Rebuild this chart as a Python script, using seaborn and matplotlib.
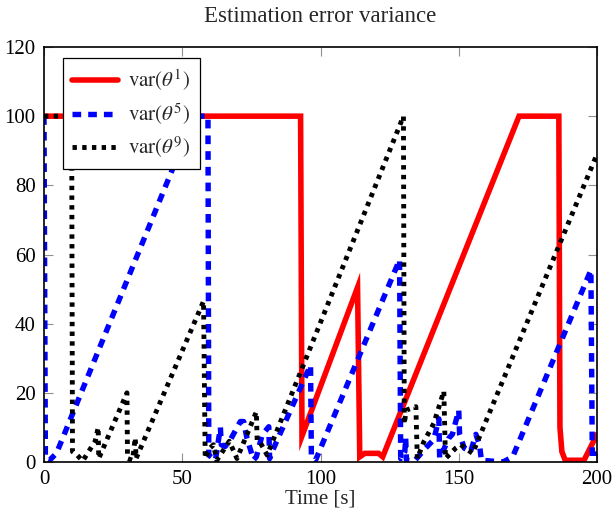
import matplotlib
matplotlib.use("Agg")
import matplotlib.pyplot as plt
import seaborn as sns
import pandas as pd

# ---- data ----
red_t = [0, 92.8, 93.3, 113.4, 114.2, 116, 121, 122.5, 171.8, 186.2, 186.6, 187.3, 188.5, 195.3, 200]
red_v = [100, 100, 7.5, 50.5, 1.5, 2.5, 2.5, 1.5, 100, 100, 10, 3, 0.5, 0.5, 8]

blue_t = [0, 0.5, 2, 4.5, 54.3, 59.3, 59.6, 62, 63.8, 64.1, 65.5, 67.4, 71, 72.2, 73.4, 75.8,
          76.8, 78.9, 81.3, 81.6, 82.5, 96.4, 96.7, 98.2, 128.6, 129, 130.5, 130.8, 131.1, 134,
          138, 141, 142.8, 143.1, 146.5, 147.7, 150, 150.3, 152, 154.3, 156.2, 157.5, 158.2,
          166, 169.5, 197.8, 198.3, 199.5, 200]
blue_v = [100, 1, 0.5, 2.5, 100, 100, 2, 0.5, 10, 5, 4.5, 6.4, 11.7, 11.7, 6.9, 0.6,
          1.5, 7.8, 10.2, 1, 3, 28, 1.5, 0.5, 58.5, 1, 3, 7, 0.5, 0.3,
          4, 6.5, 12.5, 1, 7, 8, 15, 8, 4, 3, 8, 5, 0.5,
          0, 1.5, 55.5, 1.5, 1, 3]

black_t = [0, 10, 10.3, 12, 14, 18.5, 19.6, 19.8, 30, 30.2, 32, 33, 33.3, 57.7, 58.3, 60, 61.3,
           62.5, 67, 69.8, 76.8, 77.1, 78.3, 80.7, 130, 130.3, 131, 134.5, 135, 137.4, 141,
           144.6, 145.2, 148.9, 150.7, 155, 200]
black_v = [100, 100, 3, 2, 0.3, 6, 10, 1, 20, 1, 0.5, 7, 1, 46.5, 1, 4, 5,
           0.5, 6, 1, 14.5, 6, 5.5, 2, 100, 11, 15, 16, 1, 5.9, 11.2,
           20.5, 1, 4, 5, 2.5, 89]

labels = [r"$\mathrm{var}(\theta^{1})$", r"$\mathrm{var}(\theta^{5})$", r"$\mathrm{var}(\theta^{9})$"]
x_ticks = [0, 50, 100, 150, 200]
y_ticks = [0, 20, 40, 60, 80, 100, 120]

sns.set_theme(style="white")
plt.rcParams["font.family"] = ["Liberation Serif", "DejaVu Serif"]
plt.rcParams["mathtext.fontset"] = "stix"

fig = plt.figure(figsize=(6.12, 5.26), dpi=100)
ax = fig.add_axes([44 / 612, 1 - 462 / 526, 553 / 612, 415 / 526])

df_r = pd.DataFrame({"t": red_t, "v": red_v})
df_b = pd.DataFrame({"t": blue_t, "v": blue_v})
df_k = pd.DataFrame({"t": black_t, "v": black_v})

sns.lineplot(data=df_r, x="t", y="v", ax=ax, color="#ff0000", lw=4.0,
             estimator=None, sort=False, label=labels[0])
sns.lineplot(data=df_b, x="t", y="v", ax=ax, color="#0000ff", lw=3.9,
             estimator=None, sort=False, label=labels[1])
sns.lineplot(data=df_k, x="t", y="v", ax=ax, color="#000000", lw=3.5,
             estimator=None, sort=False, label=labels[2])

lines = ax.get_lines()
lines[1].set_dashes([1.6, 1.3])
lines[2].set_dashes([0.9, 1.1])
for ln in lines:
    ln.set_solid_joinstyle("miter")

ax.set_xlim(0, 200)
ax.set_ylim(0, 120)
ax.set_xticks(x_ticks)
ax.set_yticks(y_ticks)
ax.tick_params(axis="both", which="both", direction="in", length=6.5, width=0.8,
               color="#909090", labelsize=15, pad=6, top=True, right=True,
               bottom=True, left=True, labelcolor="black")
for s in ax.spines.values():
    s.set_color("black")
    s.set_linewidth(1.2)
ax.set_xlabel("Time [s]", fontsize=15, labelpad=0)
ax.set_ylabel("")
ax.set_title("Estimation error variance", fontsize=16.5, pad=18)

handles = lines
leg = ax.legend(handles, labels, loc="upper left", bbox_to_anchor=(0.034, 0.973),
                borderaxespad=0, fontsize=15, frameon=True, fancybox=False,
                framealpha=1, edgecolor="black", handlelength=2.2,
                labelspacing=0.4, borderpad=0.45, handletextpad=0.5)
leg.get_frame().set_linewidth(0.9)

fig.savefig("out.png", dpi=100)
